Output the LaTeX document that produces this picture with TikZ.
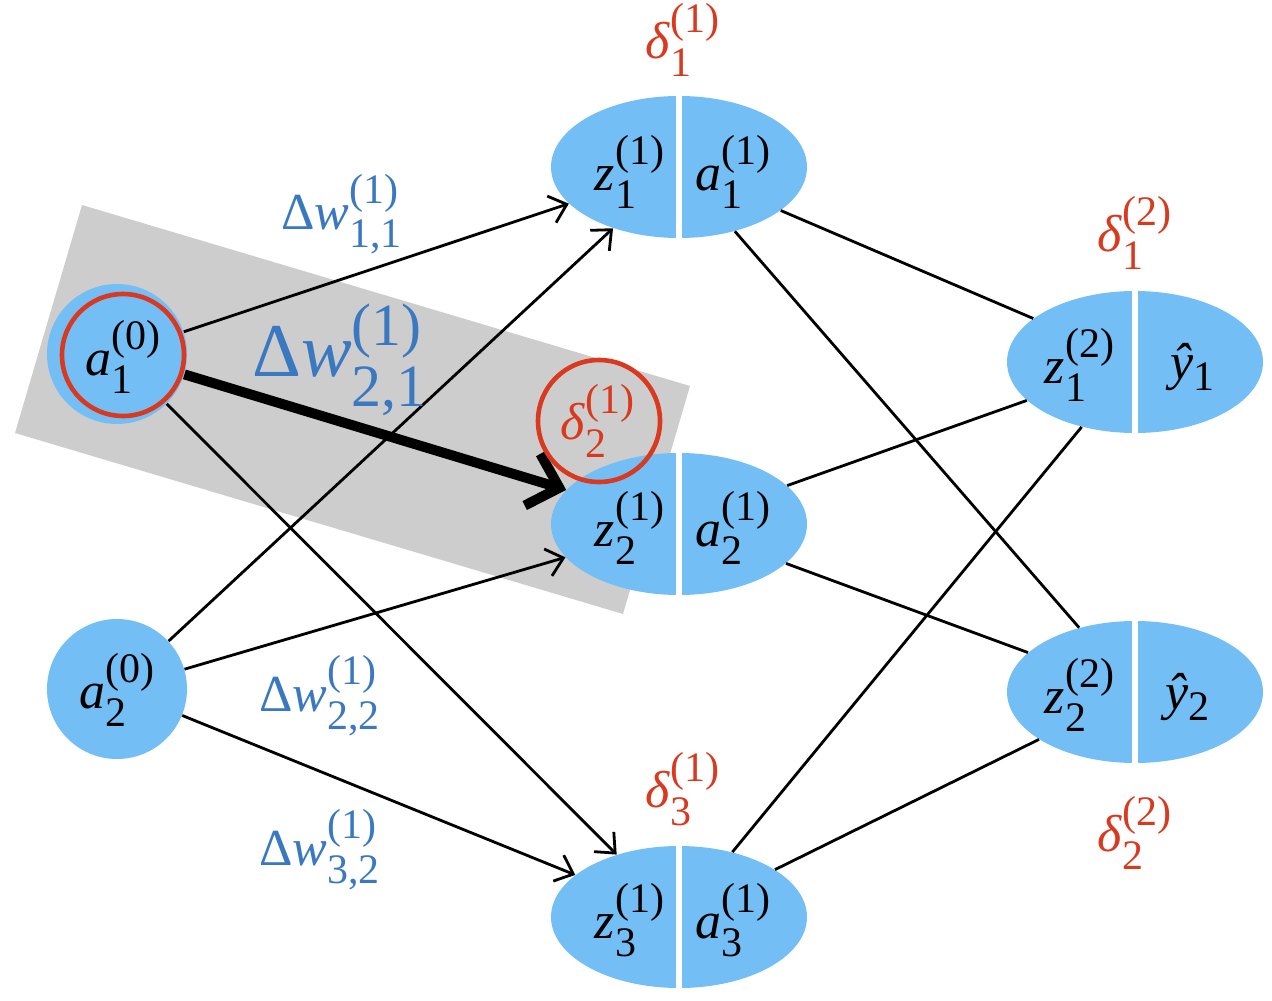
\documentclass[tikz,border=0pt]{standalone}
\usepackage{amsmath}
\usepackage{fontspec}
\setmainfont{Liberation Serif}
\usetikzlibrary{shapes.geometric,arrows.meta}
\DeclareMathSizes{26}{26}{21}{16}
\DeclareMathSizes{38}{38}{30}{22}
\definecolor{nodeblue}{HTML}{74BEF6}
\definecolor{labblue}{HTML}{3A78C0}
\definecolor{labred}{HTML}{D93A1F}
\definecolor{boxgray}{HTML}{CDCDCD}
% variable with sub/superscript set in the text font
\newcommand{\vv}[3]{$\text{#1}^{\text{#2}}_{\text{#3}}$}
\tikzset{
  ell/.style={ellipse, fill=nodeblue, minimum width=128pt, minimum height=71pt, inner sep=0pt},
  inp/.style={circle, fill=nodeblue, minimum size=70pt, inner sep=0pt},
  txt/.style={font=\fontsize{26}{30}\selectfont, inner sep=0pt},
  wlab/.style={txt, text=labblue},
  dlab/.style={txt, text=labred},
  conn/.style={line width=1.4pt},
  arr/.style={conn, -{Straight Barb[length=8pt, width=14pt]}},
  divider/.style={white, line width=3pt},
}
\begin{document}
\begin{tikzpicture}[x=0.5pt,y=-0.5pt]
\useasboundingbox (0,0) rectangle (1272,1000);
% gray highlight band
\fill[boxgray] (82,205) -- (690,386) -- (623,614) -- (15,433) -- cycle;

% nodes
\node[inp] (i1) at (117,354) {};
\node[inp] (i2) at (117,689) {};
\node[ell] (h1) at (679,167) {};
\node[ell] (h2) at (679,524) {};
\node[ell] (h3) at (679,917) {};
\node[ell] (o1) at (1135,362) {};
\node[ell] (o2) at (1135,692) {};

% dividers
\foreach \n in {h1,h2,h3,o1,o2}
  \draw[divider] (\n.north) -- (\n.south);

% connectors input -> hidden
\draw[arr] (i1) -- (h1);
\draw[arr] (i2) -- (h1);
\draw[arr] (i1) -- (h3);
\draw[arr] (i2) -- (h2);
\draw[arr] (i2) -- (h3);
\draw[line width=5pt, -{Straight Barb[length=14pt, width=27pt]}] (i1) -- (h2);

% hidden -> output
\draw[conn] (h1) -- (o1);
\draw[conn] (h1) -- (o2);
\draw[conn] (h2) -- (o1);
\draw[conn] (h2) -- (o2);
\draw[conn] (h3) -- (o1);
\draw[conn] (h3) -- (o2);

% node texts
\node[txt] (ti1) at (123,357) {\vv{\textit{a}}{(0)}{1}};
\node[txt] (ti2) at (117,690) {\vv{\textit{a}}{(0)}{2}};
\node[txt] (tz1) at (630,172) {\vv{\textit{z}}{(1)}{1}};
\node[txt] (ta1) at (733,172) {\vv{\textit{a}}{(1)}{1}};
\node[txt] (tz2) at (630,528) {\vv{\textit{z}}{(1)}{2}};
\node[txt] (ta2) at (733,528) {\vv{\textit{a}}{(1)}{2}};
\node[txt] (tz3) at (630,920) {\vv{\textit{z}}{(1)}{3}};
\node[txt] (ta3) at (733,920) {\vv{\textit{a}}{(1)}{3}};
\node[txt] (tz4) at (1080,365) {\vv{\textit{z}}{(2)}{1}};
\node[txt] (ty1) at (1193,367) {\textit{ŷ}$_{\text{1}}$};
\node[txt] (tz5) at (1080,695) {\vv{\textit{z}}{(2)}{2}};
\node[txt] (ty2) at (1188,697) {\textit{ŷ}$_{\text{2}}$};

% delta labels
\node[dlab] (d11) at (683,40) {\vv{\textit{δ}}{(1)}{1}};
\node[dlab] (d21) at (598,421) {\vv{\textit{δ}}{(1)}{2}};
\node[dlab] (d31) at (683,789) {\vv{\textit{δ}}{(1)}{3}};
\node[dlab] (d12) at (1135,233) {\vv{\textit{δ}}{(2)}{1}};
\node[dlab] (d22) at (1135,833) {\vv{\textit{δ}}{(2)}{2}};

% weight labels
\node[wlab] (w11) at (342,214) {\vv{Δ\textit{w}}{(1)}{1,1}};
\node[wlab, font=\fontsize{38}{42}\selectfont] (w21) at (340,360) {\vv{Δ\textit{w}}{(1)}{2,1}};
\node[wlab] (w22) at (320,696) {\vv{Δ\textit{w}}{(1)}{2,2}};
\node[wlab] (w32) at (320,850) {\vv{Δ\textit{w}}{(1)}{3,2}};

% red highlight circles
\draw[labred, line width=2.3pt] (123,355) circle[radius=61];
\draw[labred, line width=2.3pt] (599,421) circle[radius=61];
\end{tikzpicture}
\end{document}
